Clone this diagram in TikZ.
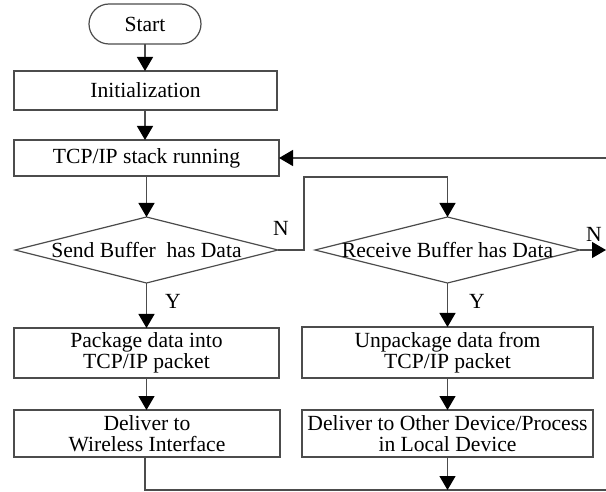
\documentclass[tikz,border=0pt]{standalone}
\usepackage{fontspec}
\setmainfont{Liberation Serif}
\usetikzlibrary{shapes.geometric,arrows.meta}
\begin{document}
\begin{tikzpicture}[x=0.5pt,y=-0.5pt,
  font=\fontsize{10.8}{10.6}\selectfont,
  every node/.style={inner sep=0pt, outer sep=0pt},
  box/.style={draw=black!70, line width=0.6pt, rectangle, align=center},
  dia/.style={draw=black!70, line width=0.6pt, diamond, minimum width=#1},
  conn/.style={draw=black!70, line width=0.6pt},
  arr/.style={conn, -{Triangle[length=7pt,width=8pt,fill=black,color=black]}},
  lab/.style={font=\fontsize{10.8}{12}\selectfont}
]
\useasboundingbox (0,0) rectangle (606,492);
% nodes
\node[box, rounded corners=10pt, minimum width=56pt, minimum height=20pt] (start) at (145,24) {Start};
\node[box, minimum width=131.5pt, minimum height=19.5pt] (init) at (145.5,90.5) {Initialization};
\node[box, minimum width=132.5pt, minimum height=18pt] (tcp) at (146.5,158) {TCP/IP stack running};
\node[dia=131.5pt, minimum height=33pt] (send) at (146.5,250) {};
\node (sendt) at (send.center) {Send Buffer \ has Data};
\node[dia=132.5pt, minimum height=33pt] (recv) at (447.5,250) {};
\node (recvt) at (recv.center) {Receive Buffer has Data};
\node[box, minimum width=132.5pt, minimum height=25pt] (pack) at (146.5,353) {Package data into\\TCP/IP packet};
\node[box, minimum width=133pt, minimum height=23.5pt] (dell) at (147,433.5) {Deliver to\\Wireless Interface};
\node[box, minimum width=145.5pt, minimum height=25.5pt] (unpack) at (447.5,352.5) {Unpackage data from\\TCP/IP packet};
\node[box, minimum width=145.5pt, minimum height=23.5pt] (delr) at (447.5,433.5) {Deliver to Other Device/Process\\in Local Device};
% labels
\node[lab] (yl) at (173,301) {Y};
\node[lab] (yr) at (477,301) {Y};
\node[lab] (nl) at (281,228) {N};
\node[lab] (nr) at (594,234) {N};
% helper coordinates
\coordinate (c1) at (304,250);
\coordinate (c2) at (304,177);
\coordinate (c3) at (447.5,177);
\coordinate (redge) at (606,250);
\coordinate (fb) at (606,158);
\coordinate (b1) at (145,490);
\coordinate (b2) at (606,490);
\coordinate (b3) at (447.5,490);
% connectors
\draw[arr] (start.south) -- (start.south |- init.north);
\draw[arr] (init.south -| start.south) -- (start.south |- tcp.north);
\draw[arr] (tcp.south -| send.north) -- (send.north);
\draw[arr] (send.south) -- (send.south |- pack.north);
\draw[arr] (send.east) -- (c1) -- (c2) -- (c3) -- (recv.north);
\draw[arr] (recv.east) -- (redge);
\draw[arr] (recv.south) -- (recv.south |- unpack.north);
\draw[arr] (pack.south) -- (pack.south |- dell.north);
\draw[arr] (unpack.south) -- (delr.north);
\draw[arr] (fb) -- (tcp.east);
\draw[conn] (dell.south -| b1) -- (b1) -- (b2);
\draw[arr] (delr.south) -- (b3);
\end{tikzpicture}
\end{document}
